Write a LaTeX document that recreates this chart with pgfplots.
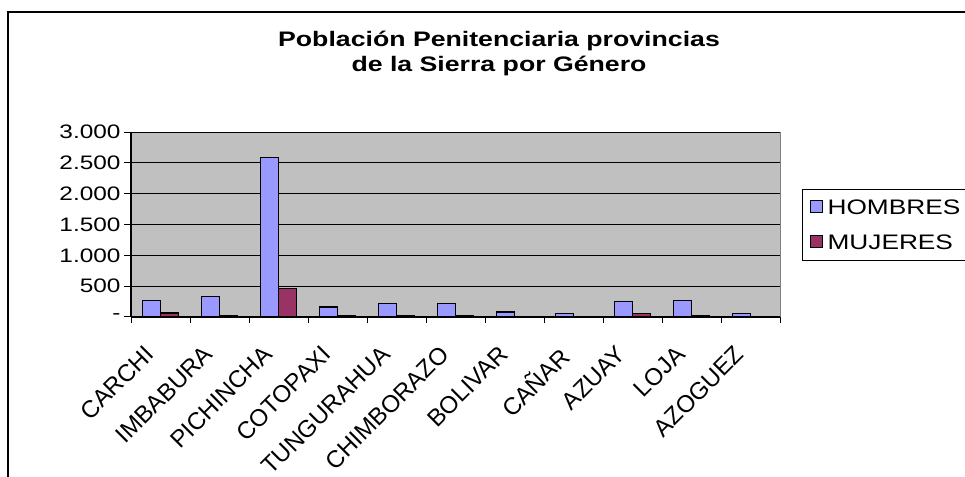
\documentclass[border=0pt]{standalone}
\usepackage{pgfplots}
\pgfplotsset{compat=1.18}
\usepackage{fontspec}
\setmainfont{Liberation Sans}
\definecolor{hom}{HTML}{9999FF}
\definecolor{muj}{HTML}{993366}
\definecolor{plotbg}{HTML}{C0C0C0}
\newcommand{\sx}[1]{\scalebox{1.25}[1]{#1}}
\begin{document}
\begin{tikzpicture}[x=1pt,y=1pt]
\useasboundingbox (0,0) rectangle (965,476);
\clip (0,0) rectangle (965,476);
\fill[white] (0,0) rectangle (965,476);
\draw[black, line width=1.2pt] (8,464) rectangle (990,-20);
\begin{axis}[
  at={(131pt,159pt)}, anchor=south west,
  scale only axis, width=649pt, height=185pt,
  xmin=-0.5, xmax=10.5, ymin=0, ymax=3000,
  axis background/.style={fill=plotbg, draw=gray, line width=1pt},
  axis lines*=left, axis line style={black, line width=1.2pt, -},
  ytick={0,500,...,3000},
  yticklabels={{\sx{-}\hspace{47pt}},{\sx{500}\hspace{22pt}},{\sx{1.000}\hspace{22pt}},{\sx{1.500}\hspace{22pt}},{\sx{2.000}\hspace{22pt}},{\sx{2.500}\hspace{22pt}},{\sx{3.000}\hspace{22pt}}},
  scaled y ticks=false,
  ymajorgrids, major grid style={black, line width=1pt},
  tick align=outside,
  major tick length=7pt, minor tick length=6pt,
  major tick style={black, line width=1pt},
  minor tick style={black, line width=1pt},
  xtick={0,...,10},
  major x tick style={draw=none},
  minor xtick={-0.5,0.5,...,10.5},
  xticklabels={CARCHI,IMBABURA,PICHINCHA,COTOPAXI,TUNGURAHUA,CHIMBORAZO,BOLIVAR,CAÑAR,AZUAY,LOJA,AZOGUEZ},
  x tick label style={font=\fontsize{24}{26}\selectfont, xshift=-17pt, yshift=-20pt, rotate=45, anchor=north east, inner sep=0pt},
  y tick label style={font=\fontsize{19.5}{22}\selectfont, anchor=east},
  ybar, bar width=0.305,
  legend style={at={(rel axis cs:1.034,0.692)}, anchor=north west, draw=black, line width=1pt, fill=white,
    font=\fontsize{21}{24}\selectfont, row sep=15pt, inner xsep=7pt, inner ysep=8pt,
    nodes={inner xsep=5pt}},
  legend image code/.code={\draw[#1, draw=black, line width=1pt] (0pt,-5pt) rectangle (12pt,7pt);},
  legend cell align=left,
]
\addplot[fill=hom, draw=black, line width=1.2pt, bar shift=-0.1525] coordinates {
(0,272) (1,326) (2,2582) (3,163) (4,218) (5,218) (6,82) (7,55) (8,245) (9,272) (10,55)};
\addplot[fill=muj, draw=black, line width=1.2pt, bar shift=0.1525] coordinates {
(0,65) (1,30) (2,463) (3,25) (4,25) (5,25) (6,0) (7,0) (8,55) (9,25) (10,0)};
\legend{\sx{HOMBRES},\sx{MUJERES}}
\end{axis}
\node[anchor=base, font=\bfseries\fontsize{21}{25}\selectfont, xscale=1.27] at (499,429) {Población Penitenciaria provincias};
\node[anchor=base, font=\bfseries\fontsize{21}{25}\selectfont, xscale=1.27] at (499,404) {de la Sierra por Género};
\end{tikzpicture}
\end{document}
